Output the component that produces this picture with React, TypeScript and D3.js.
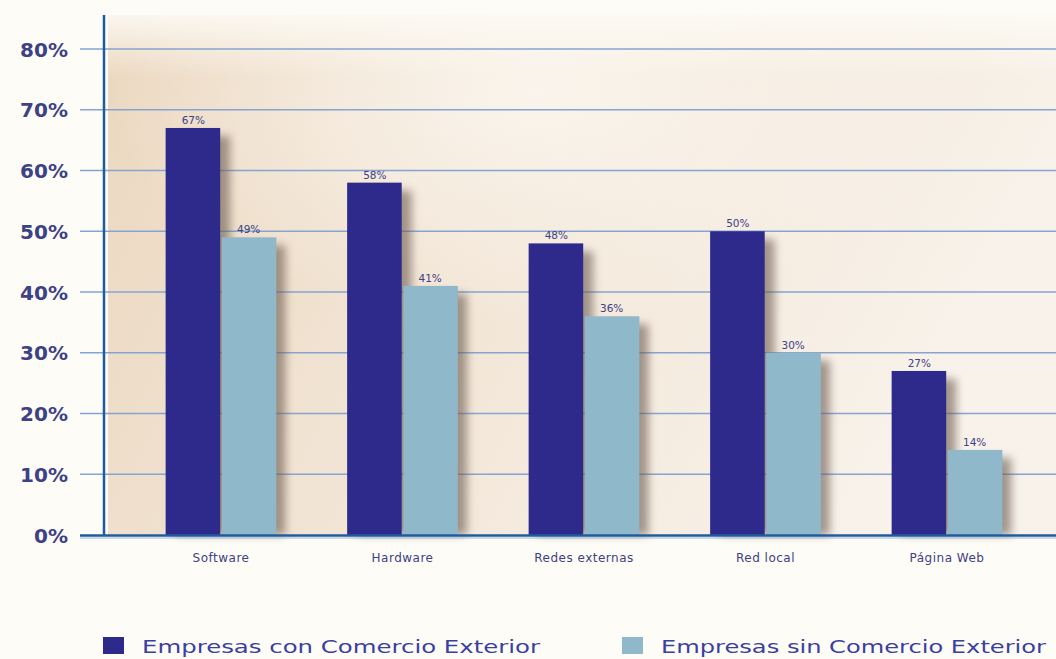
import React from "react";
import * as d3 from "d3";

const categories = ["Software", "Hardware", "Redes externas", "Red local", "Página Web"];
const seriesNames = ["Empresas con Comercio Exterior", "Empresas sin Comercio Exterior"];
const conComercio = [67, 58, 48, 50, 27];
const sinComercio = [49, 41, 36, 30, 14];
const yTicks = [0, 10, 20, 30, 40, 50, 60, 70, 80];

const W = 1056;
const H = 659;
const colors = ["#2d2a8c", "#8fb8ca"];
const txt = "#3d4185";

export default function App() {
  const y = d3.scaleLinear().domain([0, 80]).range([535, 49]);
  const x = d3
    .scaleBand<string>()
    .domain(categories)
    .range([130.25, 1037.75])
    .paddingInner(0.39)
    .paddingOuter(0.195);
  const xs = d3.scaleBand<string>().domain(seriesNames).range([0, x.bandwidth()]).padding(0);
  const series = [conComercio, sinComercio];
  const font = "'DejaVu Sans', Lato, sans-serif";
  const legendX = [103, 622];

  return (
    <svg width={W} height={H} style={{ position: "absolute", left: 0, top: 0, background: "#fdfcf6" }}>
      <defs>
        <linearGradient id="bg" x1="0" y1="0" x2="1" y2="0.3">
          <stop offset="0" stopColor="#ebd7bf" />
          <stop offset="0.35" stopColor="#f0e1cf" />
          <stop offset="0.7" stopColor="#f5ebdf" />
          <stop offset="1" stopColor="#f8f2ea" />
        </linearGradient>
        <radialGradient id="glow" cx="0.45" cy="0.15" r="0.45">
          <stop offset="0" stopColor="#fbf6ef" stopOpacity="0.9" />
          <stop offset="1" stopColor="#fbf6ef" stopOpacity="0" />
        </radialGradient>
        <linearGradient id="fadeTop" x1="0" y1="0" x2="0" y2="1">
          <stop offset="0" stopColor="#fdfcf6" stopOpacity="0.85" />
          <stop offset="0.12" stopColor="#fdfcf6" stopOpacity="0" />
        </linearGradient>
        <filter id="shadow" x="-50%" y="-20%" width="200%" height="140%">
          <feGaussianBlur stdDeviation="4" />
        </filter>
      </defs>

      {/* plot background */}
      <rect x={108} y={15} width={W - 108} height={520} fill="url(#bg)" />
      <rect x={108} y={15} width={W - 108} height={520} fill="url(#glow)" />
      <rect x={108} y={15} width={W - 108} height={520} fill="url(#fadeTop)" />

      {/* gridlines */}
      {yTicks.filter((t) => t > 0).map((t) => (
        <line key={t} x1={80} x2={W} y1={y(t)} y2={y(t)} stroke="#86a4d2" strokeWidth={1.4} />
      ))}

      {/* y tick labels */}
      {yTicks.map((t) => (
        <text
          key={t}
          x={68}
          y={y(t) + 7.5}
          textAnchor="end"
          fontFamily={font}
          fontWeight={700}
          fontSize={20}
          fill={txt}
        >
          {t}%
        </text>
      ))}

      {/* shadows */}
      {categories.map((c, i) =>
        series.map((s, j) => (
          <rect
            key={`sh-${c}-${j}`}
            x={(x(c) ?? 0) + (xs(seriesNames[j]) ?? 0) + 9}
            y={y(s[i]) + 8}
            width={xs.bandwidth()}
            height={y(0) - y(s[i]) - 8}
            fill="#6a5a50"
            opacity={0.6}
            filter="url(#shadow)"
          />
        ))
      )}

      {/* bars */}
      {categories.map((c, i) =>
        series.map((s, j) => (
          <rect
            key={`b-${c}-${j}`}
            x={(x(c) ?? 0) + (xs(seriesNames[j]) ?? 0) + (j === 1 ? 0.8 : 0)}
            y={y(s[i])}
            width={xs.bandwidth() - 0.8}
            height={y(0) - y(s[i])}
            fill={colors[j]}
          />
        ))
      )}

      {/* value labels */}
      {categories.map((c, i) =>
        series.map((s, j) => (
          <text
            key={`l-${c}-${j}`}
            x={(x(c) ?? 0) + (xs(seriesNames[j]) ?? 0) + xs.bandwidth() / 2}
            y={y(s[i]) - 4}
            textAnchor="middle"
            fontFamily={font}
            fontSize={10.5}
            fill={txt}
          >
            {s[i]}%
          </text>
        ))
      )}

      {/* axes */}
      <line x1={104} x2={104} y1={15} y2={536} stroke="#1f5c9e" strokeWidth={2.5} />
      <line x1={80} x2={W} y1={535.5} y2={535.5} stroke="#1f5c9e" strokeWidth={2.5} />
      <line x1={80} x2={W} y1={538} y2={538} stroke="#9bb5d6" strokeWidth={1} />

      {/* category labels */}
      {categories.map((c) => (
        <text
          key={c}
          x={(x(c) ?? 0) + x.bandwidth() / 2}
          y={562}
          textAnchor="middle"
          fontFamily={font}
          fontSize={12}
          letterSpacing={0.5}
          fill={txt}
        >
          {c}
        </text>
      ))}

      {/* legend */}
      {seriesNames.map((n, j) => {
        const lx = legendX[j];
        return (
          <g key={n}>
            <rect x={lx} y={637} width={21} height={17} fill={colors[j]} />
            <text
              x={lx + 39}
              y={653}
              fontFamily={font}
              fontSize={18.5}
              fill="#3a3fa0"
              textLength={j === 0 ? 398 : 385}
              lengthAdjust="spacingAndGlyphs"
            >
              {n}
            </text>
          </g>
        );
      })}
    </svg>
  );
}
